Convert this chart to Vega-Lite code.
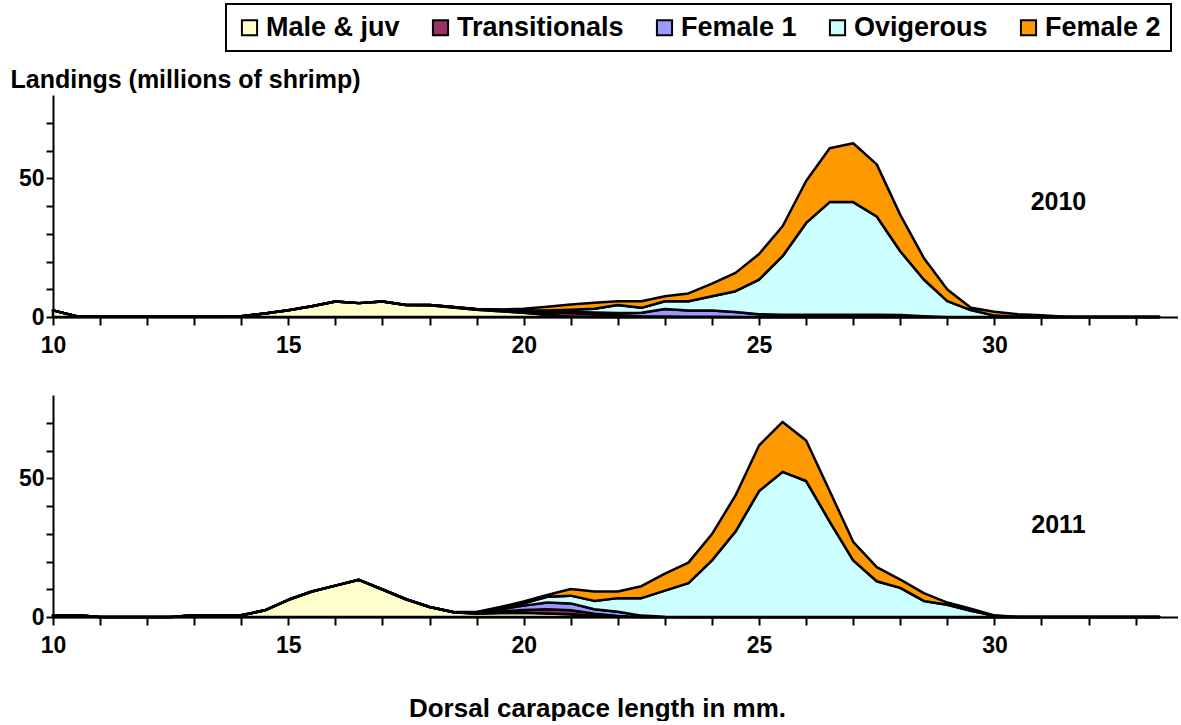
{
 "$schema": "https://vega.github.io/schema/vega-lite/v6.json",
 "padding": {"left": 10, "top": 3, "right": 0, "bottom": 0},
 "bounds": "flush",
 "spacing": 78,
 "config": {
  "view": {"stroke": null},
  "font": "Liberation Sans",
  "axis": {"domainColor": "black", "domainWidth": 2, "tickColor": "black", "tickWidth": 2, "tickSize": 8, "labelFont": "Liberation Sans", "labelFontSize": 23, "labelFontWeight": "bold", "labelColor": "black", "titleFont": "Liberation Sans", "titleFontSize": 25, "titleFontWeight": "bold", "titleColor": "black", "grid": false},
  "legend": {"labelFont": "Liberation Sans", "labelFontSize": 27, "labelFontWeight": "bold", "labelColor": "black", "labelLimit": 0, "symbolType": "square", "symbolSize": 230, "symbolStrokeColor": "black", "symbolStrokeWidth": 2, "symbolOpacity": 1, "strokeColor": "black", "strokeWidth": 2, "padding": 10, "columnPadding": 27, "labelOffset": 3}
 },
 "datasets": {
  "rank": [
   {"stage": "Male & juv", "r": 1},
   {"stage": "Transitionals", "r": 2},
   {"stage": "Female 1", "r": 3},
   {"stage": "Ovigerous", "r": 4},
   {"stage": "Female 2", "r": 5}
  ],
  "d2010": [
   {"mm": 10, "Male & juv": 2.4, "Transitionals": 0, "Female 1": 0, "Ovigerous": 0, "Female 2": 0},
   {"mm": 10.5, "Male & juv": 0.3, "Transitionals": 0, "Female 1": 0, "Ovigerous": 0, "Female 2": 0},
   {"mm": 11, "Male & juv": 0.1, "Transitionals": 0, "Female 1": 0, "Ovigerous": 0, "Female 2": 0},
   {"mm": 11.5, "Male & juv": 0.1, "Transitionals": 0, "Female 1": 0, "Ovigerous": 0, "Female 2": 0},
   {"mm": 12, "Male & juv": 0.1, "Transitionals": 0, "Female 1": 0, "Ovigerous": 0, "Female 2": 0},
   {"mm": 12.5, "Male & juv": 0.1, "Transitionals": 0, "Female 1": 0, "Ovigerous": 0, "Female 2": 0},
   {"mm": 13, "Male & juv": 0.1, "Transitionals": 0, "Female 1": 0, "Ovigerous": 0, "Female 2": 0},
   {"mm": 13.5, "Male & juv": 0.1, "Transitionals": 0, "Female 1": 0, "Ovigerous": 0, "Female 2": 0},
   {"mm": 14, "Male & juv": 0.3, "Transitionals": 0, "Female 1": 0, "Ovigerous": 0, "Female 2": 0},
   {"mm": 14.5, "Male & juv": 1.3, "Transitionals": 0, "Female 1": 0, "Ovigerous": 0, "Female 2": 0},
   {"mm": 15, "Male & juv": 2.4, "Transitionals": 0, "Female 1": 0, "Ovigerous": 0, "Female 2": 0},
   {"mm": 15.5, "Male & juv": 3.9, "Transitionals": 0, "Female 1": 0, "Ovigerous": 0, "Female 2": 0},
   {"mm": 16, "Male & juv": 5.6, "Transitionals": 0, "Female 1": 0, "Ovigerous": 0, "Female 2": 0},
   {"mm": 16.5, "Male & juv": 5.0, "Transitionals": 0, "Female 1": 0, "Ovigerous": 0, "Female 2": 0},
   {"mm": 17, "Male & juv": 5.6, "Transitionals": 0, "Female 1": 0, "Ovigerous": 0, "Female 2": 0},
   {"mm": 17.5, "Male & juv": 4.3, "Transitionals": 0, "Female 1": 0, "Ovigerous": 0, "Female 2": 0},
   {"mm": 18, "Male & juv": 4.2, "Transitionals": 0.1, "Female 1": 0, "Ovigerous": 0, "Female 2": 0},
   {"mm": 18.5, "Male & juv": 3.4, "Transitionals": 0.2, "Female 1": 0, "Ovigerous": 0, "Female 2": 0},
   {"mm": 19, "Male & juv": 2.6, "Transitionals": 0.2, "Female 1": 0, "Ovigerous": 0, "Female 2": 0.1},
   {"mm": 19.5, "Male & juv": 2.1, "Transitionals": 0.3, "Female 1": 0.1, "Ovigerous": 0, "Female 2": 0.2},
   {"mm": 20, "Male & juv": 1.5, "Transitionals": 0.5, "Female 1": 0.2, "Ovigerous": 0.2, "Female 2": 0.6},
   {"mm": 20.5, "Male & juv": 0.8, "Transitionals": 0.9, "Female 1": 0.3, "Ovigerous": 0.3, "Female 2": 1.4},
   {"mm": 21, "Male & juv": 0.2, "Transitionals": 1.2, "Female 1": 0.5, "Ovigerous": 0.7, "Female 2": 1.9},
   {"mm": 21.5, "Male & juv": 0, "Transitionals": 1.0, "Female 1": 0.6, "Ovigerous": 1.4, "Female 2": 2.1},
   {"mm": 22, "Male & juv": 0, "Transitionals": 0.6, "Female 1": 0.8, "Ovigerous": 2.9, "Female 2": 1.4},
   {"mm": 22.5, "Male & juv": 0, "Transitionals": 0.3, "Female 1": 1.2, "Ovigerous": 1.8, "Female 2": 2.4},
   {"mm": 23, "Male & juv": 0, "Transitionals": 0.2, "Female 1": 2.7, "Ovigerous": 2.8, "Female 2": 1.8},
   {"mm": 23.5, "Male & juv": 0, "Transitionals": 0.1, "Female 1": 2.2, "Ovigerous": 3.4, "Female 2": 2.8},
   {"mm": 24, "Male & juv": 0, "Transitionals": 0.1, "Female 1": 2.2, "Ovigerous": 5.2, "Female 2": 4.5},
   {"mm": 24.5, "Male & juv": 0, "Transitionals": 0, "Female 1": 1.8, "Ovigerous": 7.5, "Female 2": 6.6},
   {"mm": 25, "Male & juv": 0, "Transitionals": 0, "Female 1": 1.0, "Ovigerous": 12.5, "Female 2": 9.2},
   {"mm": 25.5, "Male & juv": 0, "Transitionals": 0, "Female 1": 0.8, "Ovigerous": 21.1, "Female 2": 10.8},
   {"mm": 26, "Male & juv": 0, "Transitionals": 0, "Female 1": 0.8, "Ovigerous": 33.1, "Female 2": 15.1},
   {"mm": 26.5, "Male & juv": 0, "Transitionals": 0, "Female 1": 0.8, "Ovigerous": 40.6, "Female 2": 19.4},
   {"mm": 27, "Male & juv": 0, "Transitionals": 0, "Female 1": 0.8, "Ovigerous": 40.6, "Female 2": 21.2},
   {"mm": 27.5, "Male & juv": 0, "Transitionals": 0, "Female 1": 0.8, "Ovigerous": 35.4, "Female 2": 18.8},
   {"mm": 28, "Male & juv": 0, "Transitionals": 0, "Female 1": 0.7, "Ovigerous": 23.0, "Female 2": 13.1},
   {"mm": 28.5, "Male & juv": 0, "Transitionals": 0, "Female 1": 0.3, "Ovigerous": 13.2, "Female 2": 7.8},
   {"mm": 29, "Male & juv": 0, "Transitionals": 0, "Female 1": 0, "Ovigerous": 5.7, "Female 2": 4.2},
   {"mm": 29.5, "Male & juv": 0, "Transitionals": 0, "Female 1": 0, "Ovigerous": 2.5, "Female 2": 0.8},
   {"mm": 30, "Male & juv": 0, "Transitionals": 0, "Female 1": 0, "Ovigerous": 0.5, "Female 2": 1.4},
   {"mm": 30.5, "Male & juv": 0, "Transitionals": 0, "Female 1": 0, "Ovigerous": 0.1, "Female 2": 0.9},
   {"mm": 31, "Male & juv": 0, "Transitionals": 0, "Female 1": 0, "Ovigerous": 0, "Female 2": 0.6},
   {"mm": 31.5, "Male & juv": 0, "Transitionals": 0, "Female 1": 0, "Ovigerous": 0, "Female 2": 0.1},
   {"mm": 32, "Male & juv": 0, "Transitionals": 0, "Female 1": 0, "Ovigerous": 0, "Female 2": 0},
   {"mm": 32.5, "Male & juv": 0, "Transitionals": 0, "Female 1": 0, "Ovigerous": 0, "Female 2": 0},
   {"mm": 33, "Male & juv": 0, "Transitionals": 0, "Female 1": 0, "Ovigerous": 0, "Female 2": 0},
   {"mm": 33.5, "Male & juv": 0, "Transitionals": 0, "Female 1": 0, "Ovigerous": 0, "Female 2": 0}
  ],
  "d2011": [
   {"mm": 10, "Male & juv": 0.6, "Transitionals": 0, "Female 1": 0, "Ovigerous": 0, "Female 2": 0},
   {"mm": 10.5, "Male & juv": 0.6, "Transitionals": 0, "Female 1": 0, "Ovigerous": 0, "Female 2": 0},
   {"mm": 11, "Male & juv": 0, "Transitionals": 0, "Female 1": 0, "Ovigerous": 0, "Female 2": 0},
   {"mm": 11.5, "Male & juv": 0, "Transitionals": 0, "Female 1": 0, "Ovigerous": 0, "Female 2": 0},
   {"mm": 12, "Male & juv": 0, "Transitionals": 0, "Female 1": 0, "Ovigerous": 0, "Female 2": 0},
   {"mm": 12.5, "Male & juv": 0, "Transitionals": 0, "Female 1": 0, "Ovigerous": 0, "Female 2": 0},
   {"mm": 13, "Male & juv": 0.6, "Transitionals": 0, "Female 1": 0, "Ovigerous": 0, "Female 2": 0},
   {"mm": 13.5, "Male & juv": 0.6, "Transitionals": 0, "Female 1": 0, "Ovigerous": 0, "Female 2": 0},
   {"mm": 14, "Male & juv": 0.6, "Transitionals": 0, "Female 1": 0, "Ovigerous": 0, "Female 2": 0},
   {"mm": 14.5, "Male & juv": 2.4, "Transitionals": 0, "Female 1": 0, "Ovigerous": 0, "Female 2": 0},
   {"mm": 15, "Male & juv": 6.2, "Transitionals": 0, "Female 1": 0, "Ovigerous": 0, "Female 2": 0},
   {"mm": 15.5, "Male & juv": 9.2, "Transitionals": 0, "Female 1": 0, "Ovigerous": 0, "Female 2": 0},
   {"mm": 16, "Male & juv": 11.3, "Transitionals": 0, "Female 1": 0, "Ovigerous": 0, "Female 2": 0},
   {"mm": 16.5, "Male & juv": 13.4, "Transitionals": 0, "Female 1": 0, "Ovigerous": 0, "Female 2": 0},
   {"mm": 17, "Male & juv": 9.9, "Transitionals": 0, "Female 1": 0, "Ovigerous": 0, "Female 2": 0},
   {"mm": 17.5, "Male & juv": 6.4, "Transitionals": 0, "Female 1": 0, "Ovigerous": 0, "Female 2": 0},
   {"mm": 18, "Male & juv": 3.6, "Transitionals": 0, "Female 1": 0, "Ovigerous": 0, "Female 2": 0},
   {"mm": 18.5, "Male & juv": 1.7, "Transitionals": 0.1, "Female 1": 0, "Ovigerous": 0, "Female 2": 0},
   {"mm": 19, "Male & juv": 1.2, "Transitionals": 0.2, "Female 1": 0.2, "Ovigerous": 0.1, "Female 2": 0.1},
   {"mm": 19.5, "Male & juv": 1.4, "Transitionals": 0.6, "Female 1": 0.8, "Ovigerous": 0.4, "Female 2": 0.4},
   {"mm": 20, "Male & juv": 1.5, "Transitionals": 1.0, "Female 1": 1.6, "Ovigerous": 0.8, "Female 2": 0.7},
   {"mm": 20.5, "Male & juv": 1.3, "Transitionals": 1.5, "Female 1": 2.4, "Ovigerous": 2.1, "Female 2": 0.6},
   {"mm": 21, "Male & juv": 1.0, "Transitionals": 1.4, "Female 1": 2.5, "Ovigerous": 2.8, "Female 2": 2.4},
   {"mm": 21.5, "Male & juv": 0.4, "Transitionals": 0.8, "Female 1": 1.6, "Ovigerous": 3.0, "Female 2": 3.4},
   {"mm": 22, "Male & juv": 0.1, "Transitionals": 0.3, "Female 1": 1.5, "Ovigerous": 4.9, "Female 2": 2.4},
   {"mm": 22.5, "Male & juv": 0, "Transitionals": 0, "Female 1": 0.5, "Ovigerous": 6.3, "Female 2": 4.3},
   {"mm": 23, "Male & juv": 0, "Transitionals": 0, "Female 1": 0.1, "Ovigerous": 9.4, "Female 2": 6.1},
   {"mm": 23.5, "Male & juv": 0, "Transitionals": 0, "Female 1": 0, "Ovigerous": 12.2, "Female 2": 7.4},
   {"mm": 24, "Male & juv": 0, "Transitionals": 0, "Female 1": 0, "Ovigerous": 20.4, "Female 2": 9.5},
   {"mm": 24.5, "Male & juv": 0, "Transitionals": 0, "Female 1": 0, "Ovigerous": 30.8, "Female 2": 13.0},
   {"mm": 25, "Male & juv": 0, "Transitionals": 0, "Female 1": 0, "Ovigerous": 45.4, "Female 2": 16.4},
   {"mm": 25.5, "Male & juv": 0, "Transitionals": 0, "Female 1": 0, "Ovigerous": 52.3, "Female 2": 18.0},
   {"mm": 26, "Male & juv": 0, "Transitionals": 0, "Female 1": 0, "Ovigerous": 49.0, "Female 2": 14.6},
   {"mm": 26.5, "Male & juv": 0, "Transitionals": 0, "Female 1": 0, "Ovigerous": 34.4, "Female 2": 11.0},
   {"mm": 27, "Male & juv": 0, "Transitionals": 0, "Female 1": 0, "Ovigerous": 20.4, "Female 2": 6.7},
   {"mm": 27.5, "Male & juv": 0, "Transitionals": 0, "Female 1": 0, "Ovigerous": 12.9, "Female 2": 5.1},
   {"mm": 28, "Male & juv": 0, "Transitionals": 0, "Female 1": 0, "Ovigerous": 10.5, "Female 2": 3.0},
   {"mm": 28.5, "Male & juv": 0, "Transitionals": 0, "Female 1": 0, "Ovigerous": 5.8, "Female 2": 2.8},
   {"mm": 29, "Male & juv": 0, "Transitionals": 0, "Female 1": 0, "Ovigerous": 4.4, "Female 2": 0.8},
   {"mm": 29.5, "Male & juv": 0, "Transitionals": 0, "Female 1": 0, "Ovigerous": 2.2, "Female 2": 0.8},
   {"mm": 30, "Male & juv": 0, "Transitionals": 0, "Female 1": 0, "Ovigerous": 0.4, "Female 2": 0.2},
   {"mm": 30.5, "Male & juv": 0, "Transitionals": 0, "Female 1": 0, "Ovigerous": 0, "Female 2": 0},
   {"mm": 31, "Male & juv": 0, "Transitionals": 0, "Female 1": 0, "Ovigerous": 0, "Female 2": 0},
   {"mm": 31.5, "Male & juv": 0, "Transitionals": 0, "Female 1": 0, "Ovigerous": 0, "Female 2": 0},
   {"mm": 32, "Male & juv": 0, "Transitionals": 0, "Female 1": 0, "Ovigerous": 0, "Female 2": 0},
   {"mm": 32.5, "Male & juv": 0, "Transitionals": 0, "Female 1": 0, "Ovigerous": 0, "Female 2": 0},
   {"mm": 33, "Male & juv": 0, "Transitionals": 0, "Female 1": 0, "Ovigerous": 0, "Female 2": 0},
   {"mm": 33.5, "Male & juv": 0, "Transitionals": 0, "Female 1": 0, "Ovigerous": 0, "Female 2": 0}
  ]
 },
 "vconcat": [
  {
   "width": 1125,
   "height": 222,
   "encoding": {
    "x": {"field": "mm", "type": "quantitative", "scale": {"domain": [10, 33.9], "nice": false, "zero": false},
          "axis": {"title": null, "values": [10,10.5,11,11.5,12,12.5,13,13.5,14,14.5,15,15.5,16,16.5,17,17.5,18,18.5,19,19.5,20,20.5,21,21.5,22,22.5,23,23.5,24,24.5,25,25.5,26,26.5,27,27.5,28,28.5,29,29.5,30,30.5,31,31.5,32,32.5,33,33.5],
                   "format": "d", "labelExpr": "datum.value % 5 == 0 ? datum.label : ''", "labelFlush": false, "labelOverlap": false, "labelPadding": 9}},
    "y": {"field": "v", "type": "quantitative", "stack": "zero", "scale": {"domain": [0, 80], "nice": false},
          "axis": {"values": [0,10,20,30,40,50,60,70], "labelExpr": "datum.value == 0 ? '0' : (datum.value == 50 ? '50' : '')", "labelOverlap": false, "tickSize": 7, "labelPadding": 2,
                   "title": "Landings (millions of shrimp)", "titleAngle": 0, "titleAlign": "left", "titleBaseline": "middle", "titleX": -43, "titleY": -16}}
   },
   "layer": [
    {
     "data": {"name": "d2010"},
     "transform": [
      {"fold": ["Male & juv", "Transitionals", "Female 1", "Ovigerous", "Female 2"], "as": ["stage", "v"]},
      {"lookup": "stage", "from": {"data": {"name": "rank"}, "key": "stage", "fields": ["r"]}}
     ],
     "mark": {"type": "area", "stroke": "black", "strokeWidth": 2.5, "strokeJoin": "round", "opacity": 1},
     "encoding": {
      "order": {"field": "r", "type": "quantitative", "sort": "ascending"},
      "color": {"field": "stage", "type": "nominal", "sort": ["Male & juv", "Transitionals", "Female 1", "Ovigerous", "Female 2"],
                "scale": {"domain": ["Male & juv", "Transitionals", "Female 1", "Ovigerous", "Female 2"], "range": ["#FFFFCC", "#993366", "#9999FF", "#CCFFFF", "#FF9900"]},
                "legend": {"title": null, "orient": "none", "direction": "horizontal", "legendX": 173, "legendY": -91}}
     }
    },
    {
     "data": {"values": [{"mm": 31.36, "v": 41.6, "t": "2010"}]},
     "mark": {"type": "text", "font": "Liberation Sans", "fontSize": 25, "fontWeight": "bold", "color": "black"},
     "encoding": {"text": {"field": "t"}}
    }
   ]
  },
  {
   "width": 1125,
   "height": 222,
   "encoding": {
    "x": {"field": "mm", "type": "quantitative", "scale": {"domain": [10, 33.9], "nice": false, "zero": false},
          "axis": {"values": [10,10.5,11,11.5,12,12.5,13,13.5,14,14.5,15,15.5,16,16.5,17,17.5,18,18.5,19,19.5,20,20.5,21,21.5,22,22.5,23,23.5,24,24.5,25,25.5,26,26.5,27,27.5,28,28.5,29,29.5,30,30.5,31,31.5,32,32.5,33,33.5],
                   "format": "d", "labelExpr": "datum.value % 5 == 0 ? datum.label : ''", "labelFlush": false, "labelOverlap": false, "labelPadding": 9,
                   "title": "Dorsal carapace length in mm.", "titleFontSize": 26, "titleX": 544, "titleY": 91, "titleAlign": "center", "titleBaseline": "middle", "titleAnchor": null}},
    "y": {"field": "v", "type": "quantitative", "stack": "zero", "scale": {"domain": [0, 80], "nice": false},
          "axis": {"values": [0,10,20,30,40,50,60,70], "labelExpr": "datum.value == 0 ? '0' : (datum.value == 50 ? '50' : '')", "labelOverlap": false, "tickSize": 7, "labelPadding": 2, "title": null}}
   },
   "layer": [
    {
     "data": {"name": "d2011"},
     "transform": [
      {"fold": ["Male & juv", "Transitionals", "Female 1", "Ovigerous", "Female 2"], "as": ["stage", "v"]},
      {"lookup": "stage", "from": {"data": {"name": "rank"}, "key": "stage", "fields": ["r"]}}
     ],
     "mark": {"type": "area", "stroke": "black", "strokeWidth": 2.5, "strokeJoin": "round", "opacity": 1},
     "encoding": {
      "order": {"field": "r", "type": "quantitative", "sort": "ascending"},
      "color": {"field": "stage", "type": "nominal", "sort": ["Male & juv", "Transitionals", "Female 1", "Ovigerous", "Female 2"],
                "scale": {"domain": ["Male & juv", "Transitionals", "Female 1", "Ovigerous", "Female 2"], "range": ["#FFFFCC", "#993366", "#9999FF", "#CCFFFF", "#FF9900"]},
                "legend": null}
     }
    },
    {
     "data": {"values": [{"mm": 31.36, "v": 33.2, "t": "2011"}]},
     "mark": {"type": "text", "font": "Liberation Sans", "fontSize": 25, "fontWeight": "bold", "color": "black"},
     "encoding": {"text": {"field": "t"}}
    }
   ]
  }
 ]
}
